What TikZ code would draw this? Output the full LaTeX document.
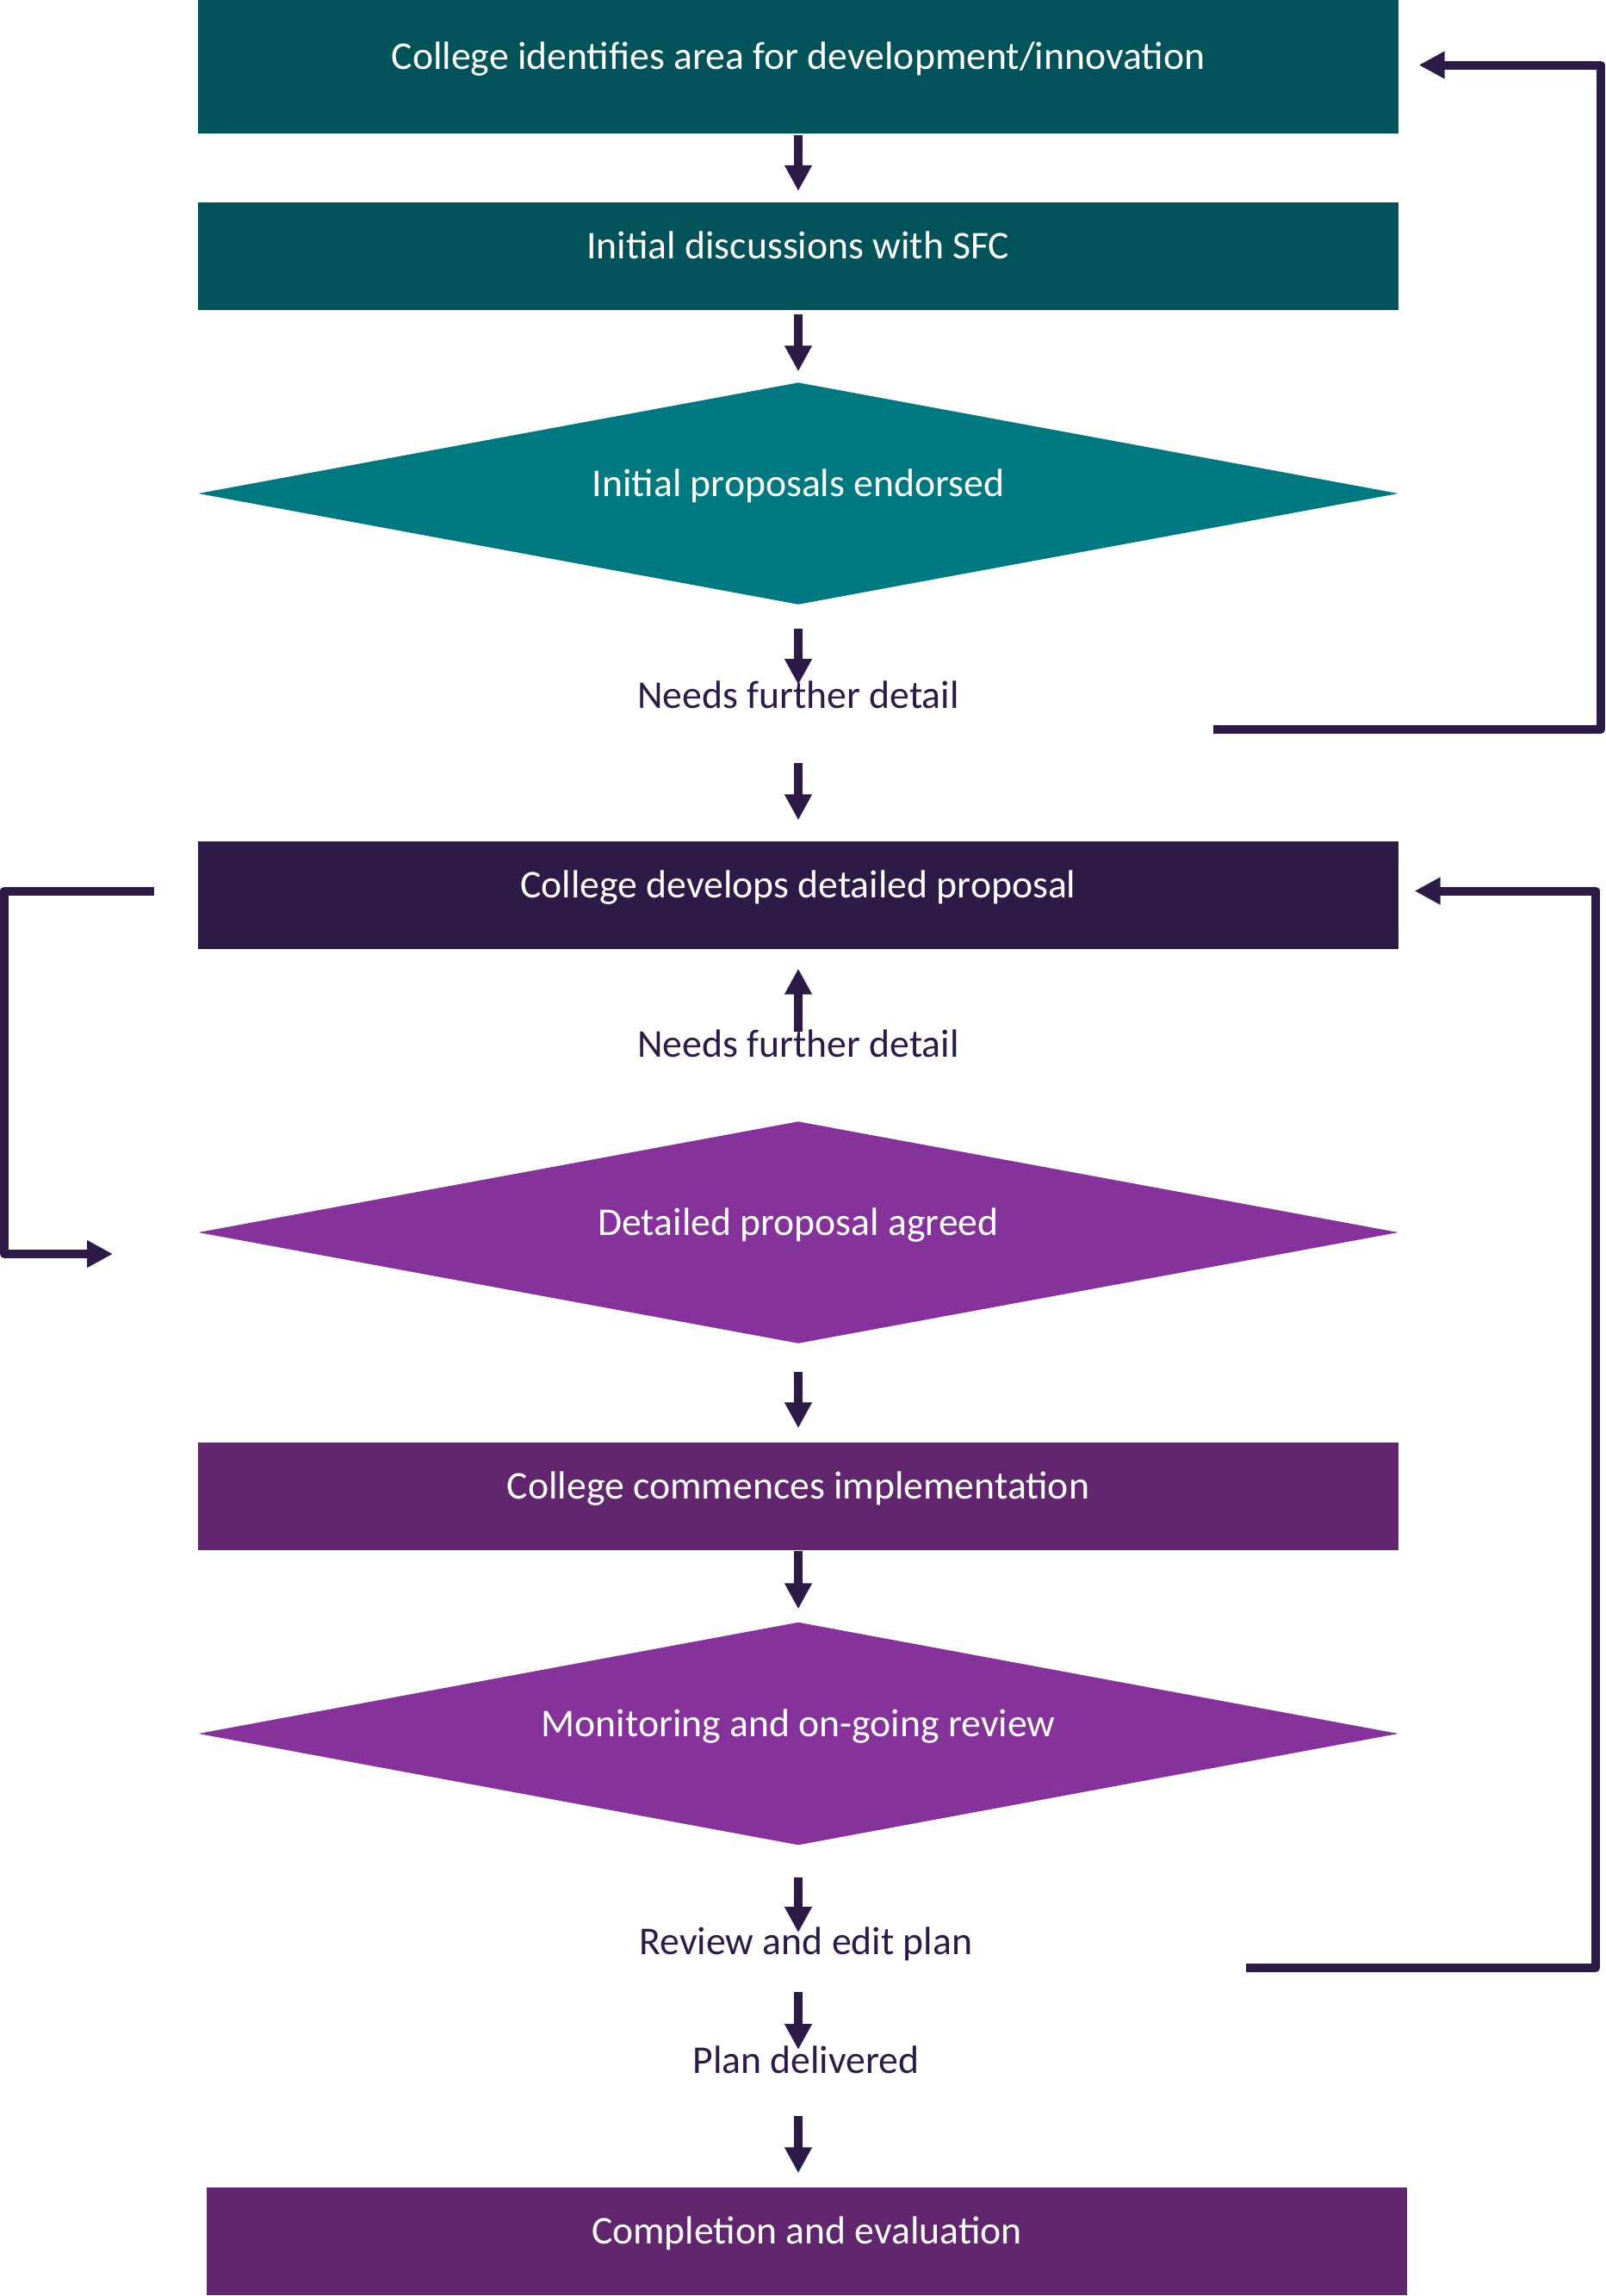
\documentclass[tikz,border=0pt]{standalone}
\usepackage{fontspec}
\setmainfont{Carlito}
\usetikzlibrary{arrows.meta,shapes.geometric}

\definecolor{tealdark}{HTML}{02525A}
\definecolor{tealmid}{HTML}{00787F}
\definecolor{plumdark}{HTML}{2E1A46}
\definecolor{plummid}{HTML}{85329A}
\definecolor{plumbox}{HTML}{62266F}

\tikzset{
	flow/.style={draw=plumdark,line width=1mm,line join=round,-{Triangle[length=3mm,width=3mm]}},
	stagebox/.style={rectangle,minimum width=13.94cm,minimum height=1.25cm,inner sep=0,
		text=white,font=\fontsize{13}{15}\selectfont,text height=4.3mm,text depth=3.7mm},
	choice/.style={diamond,aspect=5.4,minimum width=13.94cm,minimum height=2.58cm,inner sep=0,
		text=white,font=\fontsize{13}{15}\selectfont,text height=4.3mm,text depth=3.7mm},
	remark/.style={text=plumdark,font=\fontsize{13}{15}\selectfont,inner sep=0,anchor=base}
}

\begin{document}
\begin{tikzpicture}
	\useasboundingbox (0,0) rectangle (18.65,-26.66);

	%first stage
	\node [stagebox,fill=tealdark,minimum height=1.55cm] (identify) at (9.27,-0.775) {College identifies area for development/innovation};
	\node [stagebox,fill=tealdark] (discuss) at (9.27,-2.97) {Initial discussions with SFC};
	\node [choice,fill=tealmid] (endorse) at (9.27,-5.73) {Initial proposals endorsed};
	\node [remark] (detailA) at (9.27,-8.22) {Needs further detail};

	%second stage
	\node [stagebox,fill=plumdark] (develop) at (9.27,-10.395) {College develops detailed proposal};
	\node [remark] (detailB) at (9.27,-12.27) {Needs further detail};
	\node [choice,fill=plummid] (agree) at (9.27,-14.31) {Detailed proposal agreed};

	%implementation
	\node [stagebox,fill=plumbox] (commence) at (9.27,-17.37) {College commences implementation};
	\node [choice,fill=plummid,minimum height=2.59cm] (monitor) at (9.27,-20.13) {Monitoring and on-going review};
	\node [remark] (review) at (9.36,-22.69) {Review and edit plan};
	\node [remark] (deliver) at (9.36,-24.07) {Plan delivered};
	\node [stagebox,fill=plumbox] (complete) at (9.37,-26.025) {Completion and evaluation};

	%down arrows
	\draw [flow,shorten <=0.01cm,shorten >=0.12cm] (identify.south) -- (discuss.north);
	\draw [flow,shorten <=0.045cm,shorten >=0.12cm] (discuss.south) -- (endorse.north);
	\draw [flow,shorten <=0.27cm,shorten >=0.27cm] (endorse.south) -- (detailA.base);
	\draw [flow,shorten <=0.64cm,shorten >=0.24cm] (detailA.base) -- (develop.north);
	\draw [flow,shorten <=0.29cm,shorten >=0.22cm] (detailB.base) -- (develop.south);
	\draw [flow,shorten <=0.32cm,shorten >=0.155cm] (agree.south) -- (commence.north);
	\draw [flow,shorten <=0.005cm,shorten >=0.145cm] (commence.south) -- (monitor.north);
	\draw [flow,shorten <=0.365cm,shorten >=0.25cm] (monitor.south) -- (monitor.south |- review.base);
	\draw [flow,shorten <=0.44cm,shorten >=0.27cm] (monitor.south |- review.base) -- (monitor.south |- deliver.base);
	\draw [flow,shorten <=0.50cm,shorten >=0.16cm] (monitor.south |- deliver.base) -- (monitor.south |- complete.north);

	%loops back
	\coordinate (loopAstart) at (14.09,-8.47);
	\coordinate (loopAcorner) at (18.59,-8.47);
	\draw [flow,shorten >=0.23cm] (loopAstart) -- (loopAcorner) |- ([yshift=0.02cm]identify.east);

	\coordinate (loopBcorner) at (0.05,-14.56);
	\coordinate (loopBend) at (1.31,-14.56);
	\draw [flow,shorten <=0.5cm] ([yshift=0.05cm]develop.west) -| (loopBcorner) -- (loopBend);

	\coordinate (loopCstart) at (14.47,-22.85);
	\coordinate (loopCcorner) at (18.53,-22.85);
	\draw [flow,shorten >=0.18cm] (loopCstart) -- (loopCcorner) |- ([yshift=0.05cm]develop.east);
\end{tikzpicture}
\end{document}
